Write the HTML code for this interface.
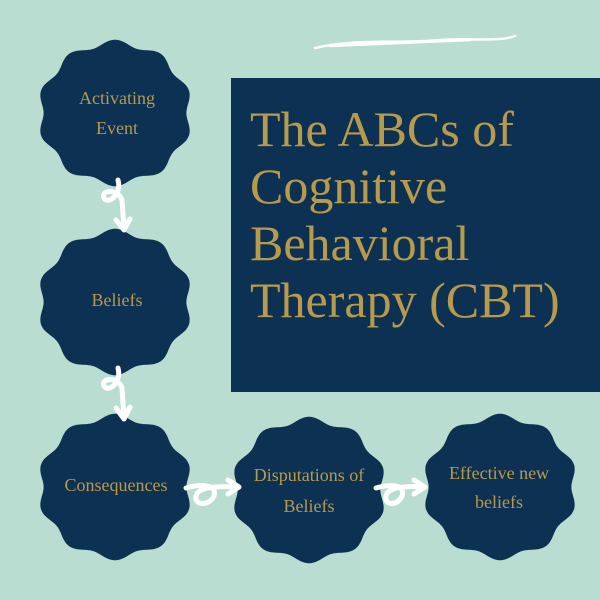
<!DOCTYPE html>
<html><head><style>
body{margin:0;width:600px;height:600px;background:#b9ddd0;overflow:hidden;position:relative;font-family:"Liberation Serif",serif}
svg{position:absolute;left:0;top:0}
.t{position:absolute;left:250px;top:101px;color:#b89a4c;font-size:50px;line-height:57px;font-family:"Liberation Serif",serif}
</style></head><body>
<svg width="600" height="600" id="s">
<rect x="231" y="78" width="369" height="314" fill="#0d3152"/>
<path d="M315 48 C360 38 400 44 440 40 C470 38 500 42 515 36 M330 46 C380 44 420 42 470 40" stroke="#fff" stroke-width="2.5" fill="none" stroke-linecap="round"/>
<g id="nodes" fill="#0d3152"></g>
<g stroke="#fff" stroke-width="5" fill="none" stroke-linecap="round" stroke-linejoin="round">
<path d="M118 180 C122 195 108 205 104 198 C100 190 118 188 122 200 L124 228 M116 220 L124 230 L130 219"/>
<path d="M118 368 C122 383 108 393 104 386 C100 378 118 376 122 388 L124 418 M116 408 L124 419 L130 407"/>
<path d="M186 488 C200 484 218 484 214 496 C210 506 194 506 196 496 C198 486 220 486 238 487 M228 480 L239 487 L228 494"/>
<path d="M376 488 C390 484 406 484 402 496 C398 506 384 506 386 496 C388 486 408 486 424 487 M414 480 L425 487 L414 494"/>
</g>
<g fill="#b89a4c" font-family="Liberation Serif, serif" font-size="18" text-anchor="middle">
<text x="117" y="104">Activating</text><text x="117" y="134">Event</text>
<text x="117" y="306">Beliefs</text>
<text x="116" y="491">Consequences</text>
<text x="309" y="481">Disputations of</text><text x="309" y="512">Beliefs</text>
<text x="499" y="479">Effective new</text><text x="499" y="508">beliefs</text>
</g>
</svg>
<div class="t">The ABCs of<br>Cognitive<br>Behavioral<br>Therapy (CBT)</div>
<script>
const g=document.getElementById('nodes');
[[115,113],[115,302],[115,487],[309,490],[500,487]].forEach(([cx,cy])=>{
let d='';for(let i=0;i<=360;i++){const t=i*Math.PI/180;const r=71+3*Math.cos(10*t);
d+=(i?'L':'M')+(cx+1.05*r*Math.sin(t)).toFixed(1)+' '+(cy-0.99*r*Math.cos(t)).toFixed(1);}
const p=document.createElementNS('http://www.w3.org/2000/svg','path');p.setAttribute('d',d+'Z');g.appendChild(p);});
</script>
</body></html>
